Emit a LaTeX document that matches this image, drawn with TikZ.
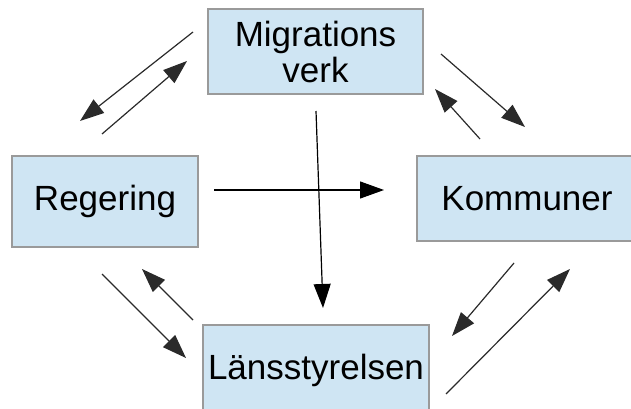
\documentclass[tikz,border=0pt]{standalone}
\usepackage{fontspec}
\setmainfont{Liberation Sans}
\usetikzlibrary{arrows.meta}
\definecolor{boxfill}{HTML}{CFE5F3}
\definecolor{boxline}{HTML}{9A9A9A}
\definecolor{arrline}{HTML}{2A2A2A}
\begin{document}
\begin{tikzpicture}[x=1pt,y=-1pt,
  box/.style={draw=boxline, line width=1.2pt, fill=boxfill, inner sep=0pt,
    align=center, font=\fontsize{35}{36}\selectfont},
  conn/.style={draw=arrline, line width=1.2pt, -{Triangle[length=24pt,width=17pt]}}]
\clip (0,0) rectangle (631,409);
\useasboundingbox (0,0) rectangle (631,409);
\node[box, minimum width=215pt, minimum height=85pt] (mig) at (315.5,51.5) {Migrations\\verk};
\node[box, minimum width=186pt, minimum height=91pt] (reg) at (105,201.5) {Regering};
\node[box, minimum width=216pt, minimum height=85pt] (kom) at (525,198.5) {\hspace*{4pt}Kommuner};
\node[box, minimum width=226pt, minimum height=90pt] (lan) at (316,370) {Länsstyrelsen};
% coordinates
\coordinate (a1s) at (193,32);  \coordinate (a1e) at (80,121);
\coordinate (a2s) at (102,134); \coordinate (a2e) at (187,61);
\coordinate (b1s) at (441,54);  \coordinate (b1e) at (525,127);
\coordinate (b2s) at (480,139); \coordinate (b2e) at (435,89);
\coordinate (c1s) at (102,274); \coordinate (c1e) at (186,358);
\coordinate (c2s) at (193,320); \coordinate (c2e) at (142,269);
\coordinate (d1s) at (514,263); \coordinate (d1e) at (452,336);
\coordinate (d2s) at (446,394); \coordinate (d2e) at (570,269);
\coordinate (hs) at (214,190);  \coordinate (he) at (384,190);
\coordinate (vs) at (316,111);  \coordinate (ve) at (323,308);
\draw[conn] (a1s) -- (a1e);
\draw[conn] (a2s) -- (a2e);
\draw[conn] (b1s) -- (b1e);
\draw[conn] (b2s) -- (b2e);
\draw[conn] (c1s) -- (c1e);
\draw[conn] (c2s) -- (c2e);
\draw[conn] (d1s) -- (d1e);
\draw[conn] (d2s) -- (d2e);
\draw[conn, draw=black] (hs) -- (he);
\draw[conn, draw=black] (vs) -- (ve);
\end{tikzpicture}
\end{document}
